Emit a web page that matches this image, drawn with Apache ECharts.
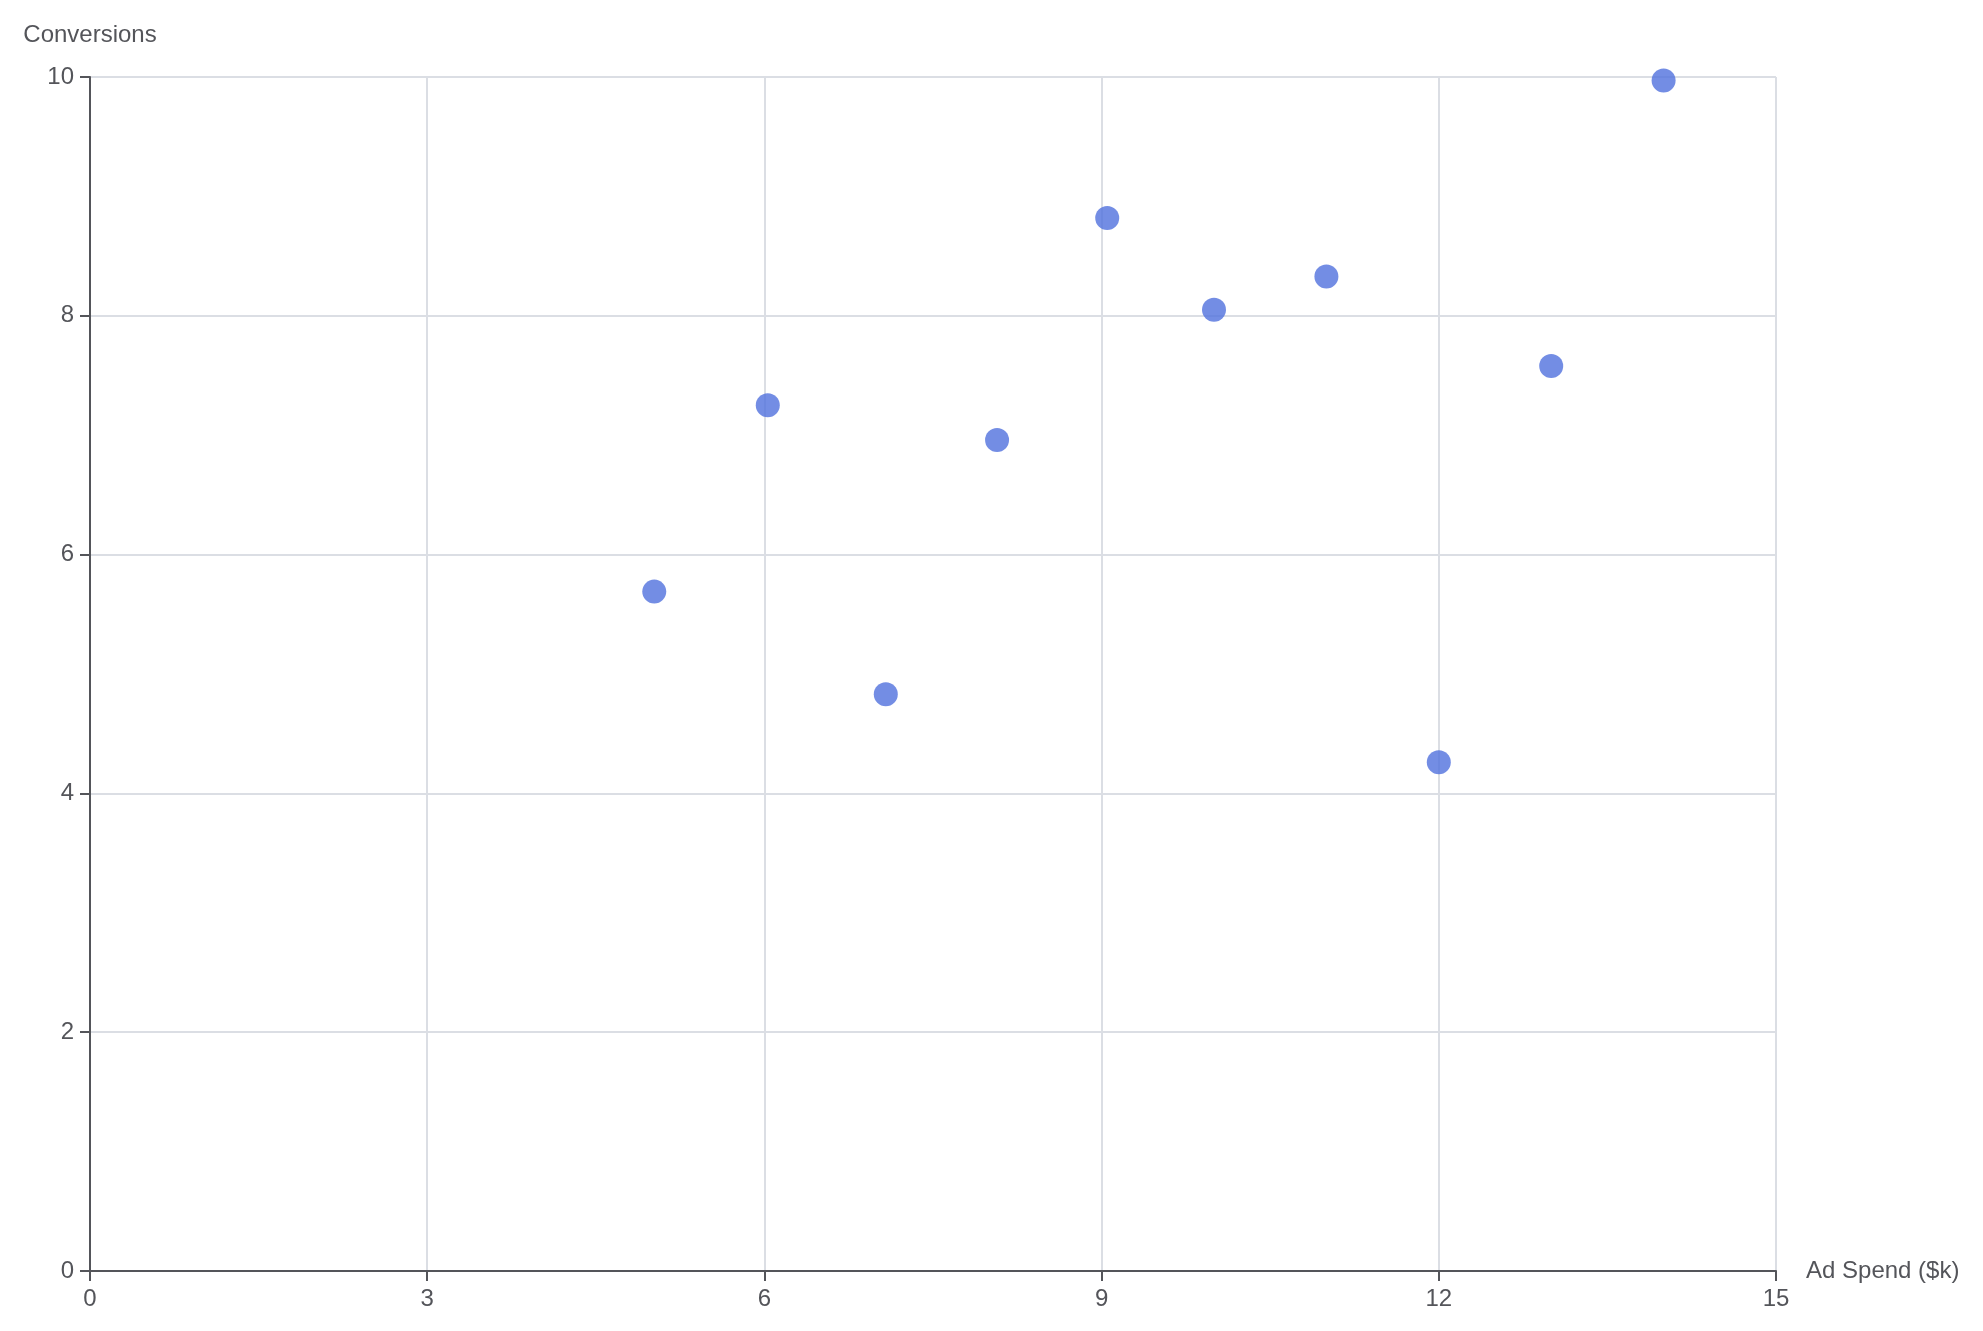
<!DOCTYPE html>
<html>
<head>
<meta charset="utf-8">
<script src="https://cdn.jsdelivr.net/npm/echarts@6/dist/echarts.min.js"></script>
<style>html,body{margin:0;padding:0;background:#fff}#c{width:1983px;height:1331px}</style>
</head>
<body>
<div id="c"></div>
<script>
const adSpend = [5.02, 6.03, 7.08, 8.07, 9.05, 10.0, 11.0, 12.0, 13.0, 14.0];
const conversions = [5.69, 7.25, 4.83, 6.96, 8.82, 8.05, 8.33, 4.26, 7.58, 9.97];
const xName = 'Ad Spend ($k)';
const yName = 'Conversions';

const points = adSpend.map((x, i) => [x, conversions[i]]);
const FONT = '"Liberation Sans", Arial, Helvetica, sans-serif';
const AXIS = '#54555a';
const GRID = '#dbdee4';

const chart = echarts.init(document.getElementById('c'), null, {renderer: 'canvas'});
chart.setOption({
  animation: false,
  grid: {left: 90, right: 207, top: 77, bottom: 60, containLabel: false},
  xAxis: {
    type: 'value', min: 0, max: 15, interval: 3,
    name: xName, nameLocation: 'end', nameGap: 30,
    nameTextStyle: {fontSize: 24, color: AXIS, fontFamily: FONT},
    axisLine: {show: true, lineStyle: {color: AXIS, width: 2}},
    axisTick: {show: true, length: 10, lineStyle: {color: AXIS, width: 2}},
    axisLabel: {fontSize: 24, color: AXIS, margin: 16, fontFamily: FONT},
    splitLine: {show: true, lineStyle: {color: GRID, width: 2}}
  },
  yAxis: {
    type: 'value', min: 0, max: 10, interval: 2,
    name: yName, nameLocation: 'end', nameGap: 30,
    nameTextStyle: {fontSize: 24, color: AXIS, fontFamily: FONT},
    axisLine: {show: true, lineStyle: {color: AXIS, width: 2}},
    axisTick: {show: true, length: 10, lineStyle: {color: AXIS, width: 2}},
    axisLabel: {fontSize: 24, color: AXIS, margin: 16, fontFamily: FONT},
    splitLine: {show: true, lineStyle: {color: GRID, width: 2}}
  },
  series: [{
    type: 'scatter',
    data: points,
    symbolSize: 24,
    itemStyle: {color: '#5070dd', opacity: 0.8}
  }]
});
</script>
</body>
</html>
